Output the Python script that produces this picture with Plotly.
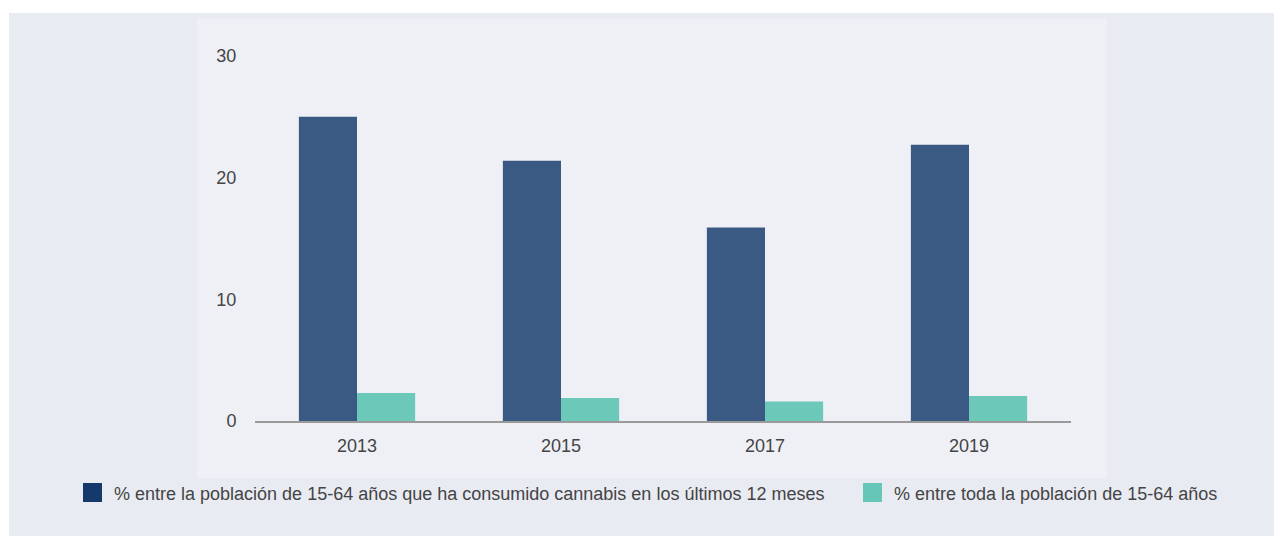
import plotly.graph_objects as go

years = ["2013", "2015", "2017", "2019"]
consumers_pct = [25.0, 21.4, 15.9, 22.7]
population_pct = [2.3, 1.9, 1.6, 2.05]
series_names = [
    "% entre la población de 15-64 años que ha consumido cannabis en los últimos 12 meses",
    "% entre toda la población de 15-64 años",
]
bar_colors = ["#3b5a83", "#6cc8b8"]
legend_colors = ["#15396b", "#66c7b9"]
y_ticks = [0, 10, 20, 30]

OFF = 8  # page body margin
W, H = 1282 - OFF, 536 - OFF
L, R, T, B = 255 - OFF, 1071 - OFF, 56 - OFF, 421 - OFF

def px(x):
    return (x - OFF - L) / (R - L)

def py(y):
    return (B - (y - OFF)) / (B - T)

fig = go.Figure()
fig.add_trace(go.Bar(x=years, y=consumers_pct, name=series_names[0],
                     marker=dict(color=bar_colors[0], line=dict(width=0)), showlegend=False))
fig.add_trace(go.Bar(x=years, y=population_pct, name=series_names[1],
                     marker=dict(color=bar_colors[1], line=dict(width=0)), showlegend=False))

shapes = [
    dict(type="rect", xref="paper", yref="paper", x0=px(9), x1=px(1290), y0=py(545), y1=py(13),
         fillcolor="#e9ebf3", line=dict(width=0), layer="below"),
    dict(type="rect", xref="paper", yref="paper", x0=px(197), x1=px(1107), y0=py(478), y1=py(19),
         fillcolor="#eef0f6", line=dict(width=0), layer="below"),
]
annotations = []
legend_pos = [(83, 112), (863, 892)]
for (sx, tx), name, col in zip(legend_pos, series_names, legend_colors):
    shapes.append(dict(type="rect", xref="paper", yref="paper", x0=px(sx), x1=px(sx + 19),
                       y0=py(502), y1=py(483), fillcolor=col, line=dict(width=0)))
    annotations.append(dict(text=name, xref="paper", yref="paper", x=px(tx), y=py(494),
                            xanchor="left", yanchor="middle", showarrow=False,
                            font=dict(size=18, color="#444444")))

fig.update_layout(
    width=W, height=H,
    margin=dict(l=L, r=W - R, t=T, b=H - B),
    paper_bgcolor="white", plot_bgcolor="rgba(0,0,0,0)",
    barmode="group", bargap=0.43, bargroupgap=0,
    font=dict(family="Liberation Sans, Arial, sans-serif", size=18, color="#444444"),
    shapes=shapes, annotations=annotations,
    xaxis=dict(showgrid=False, zeroline=False, showline=True, linecolor="#9a9a9a", linewidth=2,
               ticks="outside", ticklen=7, tickcolor="rgba(0,0,0,0)", range=[-0.5, 3.5],
               tickfont=dict(size=18, color="#444444")),
    yaxis=dict(showgrid=False, zeroline=False, showline=False, range=[0, 30], tickvals=y_ticks,
               ticks="outside", ticklen=14, tickcolor="rgba(0,0,0,0)",
               tickfont=dict(size=18, color="#444444")),
)
fig.write_html("out.html")
